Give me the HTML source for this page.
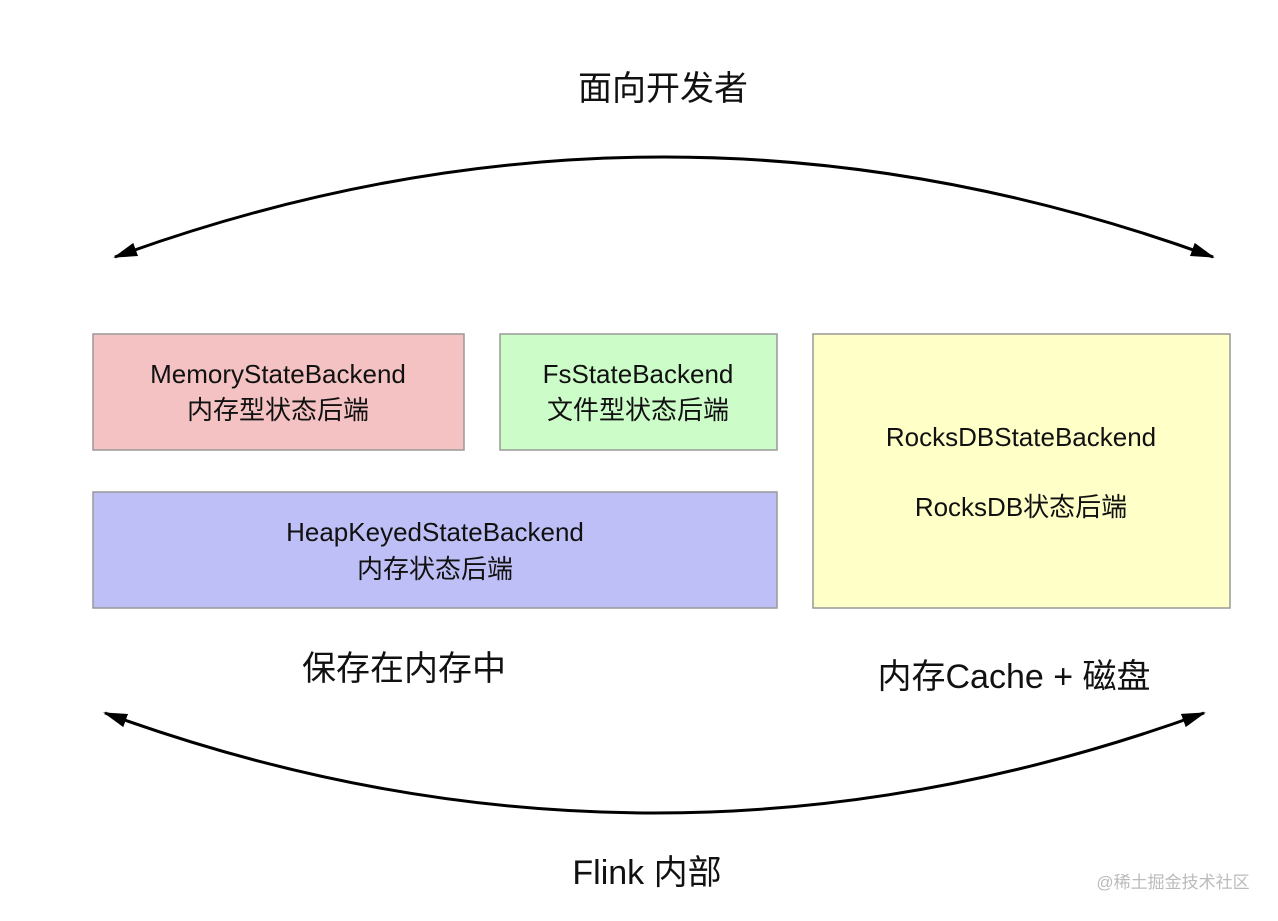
<!DOCTYPE html>
<html><head><meta charset="utf-8"><style>
body{margin:0;background:#fff;}
svg text{font-family:"Liberation Sans","Noto Sans CJK SC",sans-serif;fill:#111;}
</style></head><body>
<svg width="1278" height="916" viewBox="0 0 1278 916" xmlns="http://www.w3.org/2000/svg">
<defs>
<marker id="a" markerWidth="12" markerHeight="10" refX="11" refY="5" orient="auto" markerUnits="userSpaceOnUse">
<path d="M0,0 L12,5 L0,10 Z" fill="#000"/></marker>
<marker id="b" markerWidth="24" markerHeight="14" refX="22" refY="7" orient="auto-start-reverse" markerUnits="userSpaceOnUse">
<path d="M0,0 L24,7 L0,14 Z" fill="#000"/></marker>
</defs>
<text x="663" y="100" font-size="34" text-anchor="middle">面向开发者</text>
<path d="M115,257 Q664,57 1213,257" fill="none" stroke="#000" stroke-width="3" marker-start="url(#b)" marker-end="url(#b)"/>
<rect x="93" y="334" width="371" height="116" fill="#f4c2c2" stroke="#999" stroke-width="1.5"/>
<text x="278" y="383" font-size="26" text-anchor="middle">MemoryStateBackend</text>
<text x="278" y="419" font-size="26" text-anchor="middle">内存型状态后端</text>
<rect x="500" y="334" width="277" height="116" fill="#ccfcc8" stroke="#999" stroke-width="1.5"/>
<text x="638" y="383" font-size="26" text-anchor="middle">FsStateBackend</text>
<text x="638" y="419" font-size="26" text-anchor="middle">文件型状态后端</text>
<rect x="93" y="492" width="684" height="116" fill="#bfbff7" stroke="#999" stroke-width="1.5"/>
<text x="435" y="541" font-size="26" text-anchor="middle">HeapKeyedStateBackend</text>
<text x="435" y="578" font-size="26" text-anchor="middle">内存状态后端</text>
<rect x="813" y="334" width="417" height="274" fill="#ffffc8" stroke="#999" stroke-width="1.5"/>
<text x="1021" y="446" font-size="26" text-anchor="middle">RocksDBStateBackend</text>
<text x="1021" y="516" font-size="26" text-anchor="middle">RocksDB状态后端</text>
<text x="404" y="680" font-size="34" text-anchor="middle">保存在内存中</text>
<text x="1014" y="688" font-size="34" text-anchor="middle">内存Cache + 磁盘</text>
<path d="M105,713 Q654,913 1204,713" fill="none" stroke="#000" stroke-width="3" marker-start="url(#b)" marker-end="url(#b)"/>
<text x="647" y="884" font-size="34" text-anchor="middle">Flink 内部</text>
<text x="1173" y="888" font-size="17" text-anchor="middle" style="fill:#bbb">@稀土掘金技术社区</text>
</svg>
</body></html>
